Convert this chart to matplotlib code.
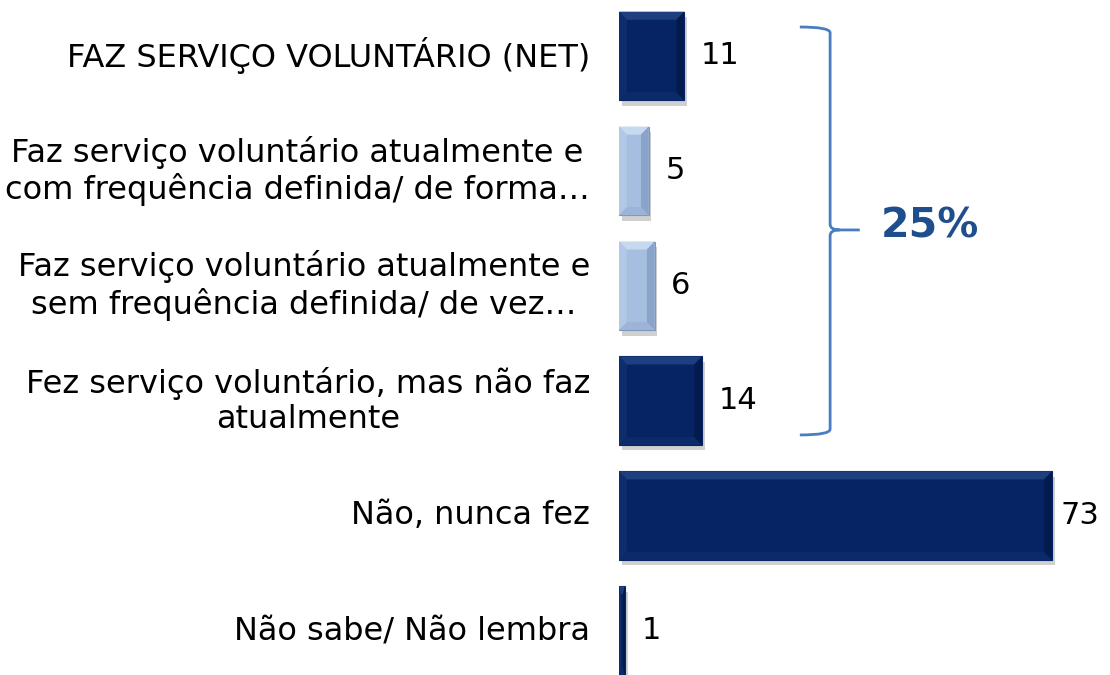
import matplotlib
matplotlib.use("Agg")
import matplotlib.pyplot as plt
import matplotlib.patheffects as pe
from matplotlib.patches import Polygon, PathPatch
from matplotlib.path import Path

categories = [
    "FAZ SERVIÇO VOLUNTÁRIO (NET)",
    "Faz serviço voluntário atualmente e\ncom frequência definida/ de forma…",
    "Faz serviço voluntário atualmente e\nsem frequência definida/ de vez…",
    "Fez serviço voluntário, mas não faz\natualmente",
    "Não, nunca fez",
    "Não sabe/ Não lembra",
]
values = [11, 5, 6, 14, 73, 1]
is_light = [False, True, True, False, False, False]
bracket_label = "25%"

dark = "#062463"
dark_top = "#1D3F80"
dark_bot = "#0A2A6A"
dark_left = "#0E2D6C"
dark_right = "#031A4E"
light = "#A6BEDF"
light_top = "#C6D9EF"
light_bot = "#9BB4D8"
light_left = "#B2C8E6"
light_right = "#8AA3C8"
light_edge = "#7D96BA"

fig = plt.figure(figsize=(11.1, 6.75), dpi=100)
ax = fig.add_axes([619 / 1110, 0, 1 - 619 / 1110, 1])
ax.set_xlim(0, 82.8)
ax.set_ylim(5.387, -0.487)
ax.axis("off")

h = 0.77
ypos = list(range(len(values)))
shadow = [pe.SimplePatchShadow(offset=(2, -4), shadow_rgbFace="#666666", alpha=0.3), pe.Normal()]
bars = ax.barh(ypos, values, height=h, color=[light if l else dark for l in is_light],
               edgecolor=[light_edge if l else dark for l in is_light], linewidth=0.8)
for b in bars:
    b.set_path_effects(shadow)

# bevel effect
for y, v, l in zip(ypos, values, is_light):
    x0, x1 = 0, v
    y0, y1 = y - h / 2, y + h / 2
    bx = min(1.3, v / 2.5)
    by = 0.07
    if l:
        ct, cb, cl, cr = light_top, light_bot, light_left, light_right
    else:
        ct, cb, cl, cr = dark_top, dark_bot, dark_left, dark_right
    ax.add_patch(Polygon([(x0, y0), (x1, y0), (x1 - bx, y0 + by), (x0 + bx, y0 + by)],
                         closed=True, facecolor=ct, edgecolor="none", zorder=3))
    ax.add_patch(Polygon([(x0, y1), (x1, y1), (x1 - bx, y1 - by), (x0 + bx, y1 - by)],
                         closed=True, facecolor=cb, edgecolor="none", zorder=3))
    ax.add_patch(Polygon([(x0, y0), (x0, y1), (x0 + bx, y1 - by), (x0 + bx, y0 + by)],
                         closed=True, facecolor=cl, edgecolor="none", zorder=3))
    ax.add_patch(Polygon([(x1, y0), (x1, y1), (x1 - bx, y1 - by), (x1 - bx, y0 + by)],
                         closed=True, facecolor=cr, edgecolor="none", zorder=3))
    ax.text(v + 2.8 if v < 50 else v + 1.5, y, str(v), ha="left", va="center",
            fontsize=22, color="black", family="DejaVu Sans")

for y, c in zip(ypos, categories):
    ax.text(-4.9, y, c, ha="right", va="center", multialignment="center",
            fontsize=23, color="black", family="DejaVu Sans", linespacing=1.18)

# bracket
bc = "#4A7DBF"
xl, xv, xt = 30.5, 35.6, 40.6
ytop, ymid, ybot = -0.252, 1.514, 3.298
r = 0.05
verts = [(xl, ytop), (xv, ytop), (xv, ytop + r), (xv, ymid - r), (xv, ymid), (xv + 1.6, ymid), (xt, ymid),
         (xv + 1.6, ymid), (xv, ymid), (xv, ymid + r), (xv, ybot - r), (xv, ybot), (xl, ybot)]
codes = [Path.MOVETO, Path.CURVE3, Path.CURVE3, Path.LINETO, Path.CURVE3, Path.CURVE3, Path.LINETO,
         Path.MOVETO, Path.CURVE3, Path.CURVE3, Path.LINETO, Path.CURVE3, Path.CURVE3]
ax.add_patch(PathPatch(Path(verts, codes), facecolor="none", edgecolor=bc, linewidth=2.0, clip_on=False))
ax.text(44.2, ymid - 0.03, bracket_label, ha="left", va="center", fontsize=29.5, fontweight="bold",
        color="#1F4E8C", family="DejaVu Sans")

fig.savefig("out.png", dpi=100)
